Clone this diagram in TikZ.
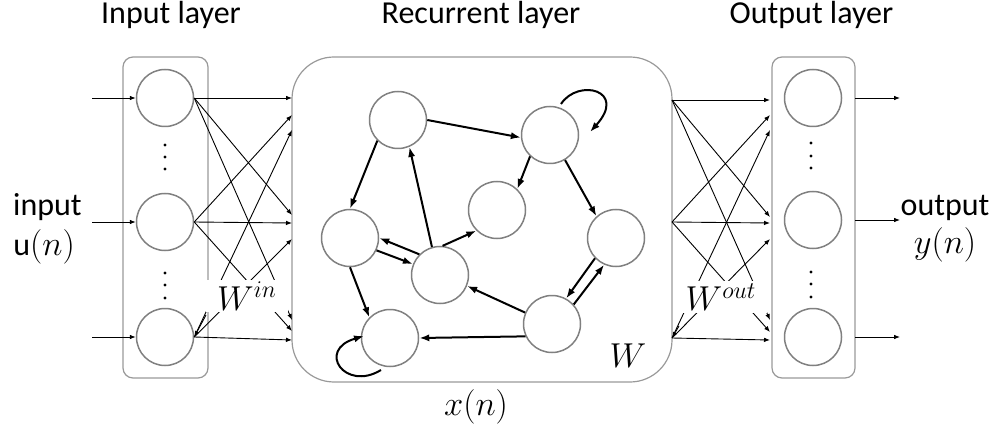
\documentclass[tikz,border=0pt]{standalone}
\usepackage{fontspec}
\setmainfont{Carlito}
\usetikzlibrary{arrows.meta,calc}
\begin{document}
\begin{tikzpicture}[x=0.5pt,y=-0.5pt,
 neuron/.style={circle,draw=black!50,line width=0.75pt,minimum size=28.5pt,inner sep=0pt},
 layerbox/.style={draw=black!40,line width=0.6pt,rounded corners=5pt,inner sep=0pt},
 conn/.style={line width=0.45pt,-{Latex[length=3pt,width=2.3pt]}},
 recarrow/.style={line width=1pt,-{Latex[length=5pt,width=3.6pt]}},
 heading/.style={font=\fontsize{16}{18}\selectfont,anchor=base,inner sep=0pt},
 lbl/.style={font=\fontsize{16}{18}\selectfont,inner sep=0pt},
 wlbl/.style={font=\fontsize{17}{19}\selectfont,inner sep=0pt,fill=white},
 vdot/.style={circle,fill=black,inner sep=0pt,minimum size=1.6pt}]
\useasboundingbox (0,0) rectangle (1000,427);

% boxes
\node[layerbox,minimum width=42.5pt,minimum height=160.5pt] (inbox) at (165.5,217.5) {};
\node[layerbox,rounded corners=21pt,minimum width=190pt,minimum height=162.5pt] (recbox) at (482,219.5) {};
\node[layerbox,minimum width=41.5pt,minimum height=160.5pt] (outbox) at (813.5,217.5) {};

% headings
\node[heading] (hin) at (171,24) {Input layer};
\node[heading] (hrec) at (481,24) {Recurrent layer};
\node[heading] (hout) at (811.5,24) {Output layer};

% input neurons
\node[neuron] (in1) at (165,98) {};
\node[neuron] (in2) at (165,222) {};
\node[neuron] (in3) at (165,337) {};
\foreach \y [count=\i] in {145,157,169,273,285,298} \node[vdot] (ind\i) at (165,\y) {};

% output neurons
\node[neuron] (out1) at (813,98) {};
\node[neuron] (out2) at (813,220) {};
\node[neuron] (out3) at (813,337) {};
\foreach \y [count=\i] in {143,156,168,272,284,297} \node[vdot] (outd\i) at (811,\y) {};

% input arrows
\coordinate (ia1) at (92,98);
\coordinate (ia2) at (92,222);
\coordinate (ia3) at (92,337);
\draw[conn] (ia1) -- (in1);
\draw[conn] (ia2) -- (in2);
\draw[conn] (ia3) -- (in3);

% input -> recurrent
\coordinate (t1) at (292,98);
\coordinate (t2) at (292,115);
\coordinate (t3) at (292,130);
\coordinate (t4) at (292,215);
\coordinate (t5) at (292,223);
\coordinate (t6) at (292,239);
\coordinate (t7) at (292,320);
\coordinate (t8) at (292,331);
\coordinate (t9) at (292,340);
\draw[conn] (in1.east) -- (t1);
\draw[conn] (in1.east) -- (t4);
\draw[conn] (in1.east) -- (t7);
\draw[conn] (in2.east) -- (t2);
\draw[conn] (in2.east) -- (t5);
\draw[conn] (in2.east) -- (t8);
\draw[conn] (in3.east) -- (t3);
\draw[conn] (in3.east) -- (t6);
\draw[conn] (in3.east) -- (t9);

% recurrent -> output
\coordinate (r1) at (672,100);
\coordinate (r2) at (672,222);
\coordinate (r3) at (672,338);
\coordinate (u1) at (770,100);
\coordinate (u2) at (770,115);
\coordinate (u3) at (770,130);
\coordinate (u4) at (770,217);
\coordinate (u5) at (770,223);
\coordinate (u6) at (770,239);
\coordinate (u7) at (770,320);
\coordinate (u8) at (770,332);
\coordinate (u9) at (770,340);
\draw[conn] (r1) -- (u1);
\draw[conn] (r1) -- (u4);
\draw[conn] (r1) -- (u7);
\draw[conn] (r2) -- (u2);
\draw[conn] (r2) -- (u5);
\draw[conn] (r2) -- (u8);
\draw[conn] (r3) -- (u3);
\draw[conn] (r3) -- (u6);
\draw[conn] (r3) -- (u9);

% weight labels
\node[wlbl,minimum width=41pt,minimum height=16pt] (win) at (247,296) {$W^{in}$};
\node[wlbl,minimum width=46pt,minimum height=16pt] (wout) at (721,297) {$W^{out}$};

% stubs
\coordinate (s1) at (206,315);
\draw[conn] (s1) -- (in3.east);
\coordinate (s2) at (679,326);
\draw[conn] (s2) -- (r3);

% output arrows
\coordinate (ob1) at (855,98);
\coordinate (ob2) at (855,220);
\coordinate (ob3) at (855,337);
\coordinate (oa1) at (900,98);
\coordinate (oa2) at (900,220);
\coordinate (oa3) at (900,337);
\draw[conn] (ob1) -- (oa1);
\draw[conn] (ob2) -- (oa2);
\draw[conn] (ob3) -- (oa3);

% side labels
\node[heading] (tin) at (47.5,215) {input};
\node[lbl,anchor=base] (uin) at (44,256) {u$(n)$};
\node[heading] (tout) at (945,215) {output};
\node[lbl] (yout) at (945,245) {$y(n)$};
\node[lbl] (xn) at (476,407) {$x(n)$};
\node[lbl] (wl) at (628,356) {$W$};

% recurrent neurons
\node[neuron] (A) at (398,120) {};
\node[neuron] (B) at (550,135) {};
\node[neuron] (C) at (497,210) {};
\node[neuron] (D) at (350,238) {};
\node[neuron] (E) at (440,275) {};
\node[neuron] (F) at (616,238) {};
\node[neuron] (G) at (390,338) {};
\node[neuron] (H) at (552,324) {};

\draw[recarrow] (A.0) -- (B.185);
\draw[recarrow] (B.227) -- (C.46);
\draw[recarrow] (B.-59) -- (F.132);
\draw[recarrow] (A.225) -- (D.90);
\draw[recarrow] (E.106) -- (A.-67);
\draw[recarrow] (E.85) -- (C.225);
\draw[recarrow] (D.-25) -- (E.158);
\draw[recarrow] (E.135) -- (D.0);
\draw[recarrow] (D.270) -- (G.135);
\draw[recarrow] (H.157) -- (E.-22);
\draw[recarrow] (H.205) -- (G.0);
\draw[recarrow] (F.224) -- (H.61);
\draw[recarrow] (H.42) -- (F.246);
\coordinate (bs) at (561,104);
\coordinate (bl) at (590,132);
\draw[recarrow] (bs) .. controls (578,78) and (628,90) .. (bl);
\coordinate (gs) at (381,370);
\coordinate (gl) at (364,336);
\draw[recarrow] (gs) .. controls (345,392) and (316,350) .. (gl);
\end{tikzpicture}
\end{document}
